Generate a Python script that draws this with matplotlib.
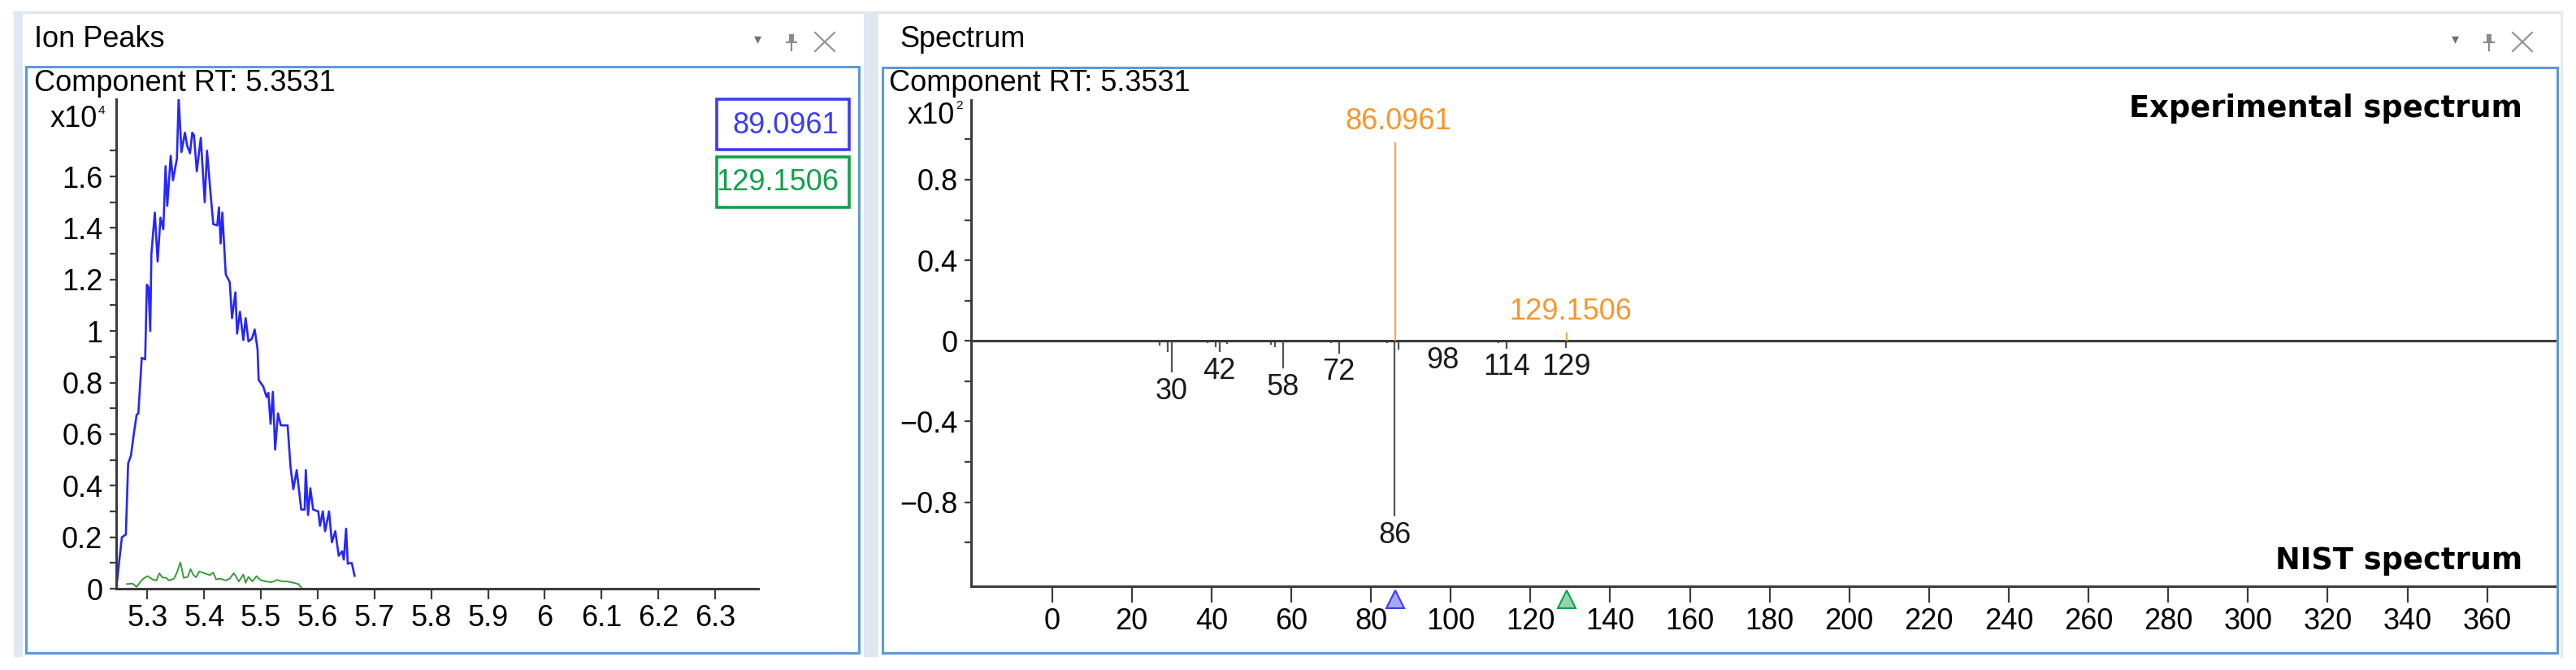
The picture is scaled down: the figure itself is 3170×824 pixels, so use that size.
import matplotlib
matplotlib.use('Agg')
import matplotlib.pyplot as plt
from matplotlib.patches import Rectangle
from matplotlib.lines import Line2D
from matplotlib.colors import to_rgba
from matplotlib.ticker import FuncFormatter
import numpy as np

# ---- data ----
# Ion Peaks: retention time (min) vs intensity (x10^4)
blue_rt = [5.245, 5.255, 5.262, 5.266, 5.271, 5.276, 5.281, 5.284, 5.290, 5.296,
           5.299, 5.302, 5.305, 5.307, 5.313, 5.318, 5.323, 5.328, 5.332, 5.335,
           5.341, 5.345, 5.352, 5.355, 5.360, 5.366, 5.370, 5.375, 5.379, 5.382,
           5.387, 5.394, 5.401, 5.405, 5.411, 5.416, 5.423, 5.426, 5.429, 5.432,
           5.438, 5.445, 5.449, 5.455, 5.458, 5.463, 5.469, 5.473, 5.478, 5.484,
           5.489, 5.494, 5.496, 5.504, 5.510, 5.513, 5.517, 5.521, 5.525, 5.530,
           5.535, 5.547, 5.552, 5.557, 5.563, 5.571, 5.577, 5.579, 5.583, 5.587,
           5.592, 5.601, 5.604, 5.609, 5.613, 5.620, 5.625, 5.631, 5.637, 5.643,
           5.646, 5.650, 5.653, 5.660, 5.665]
blue_int = [0.0, 0.20, 0.21, 0.486, 0.517, 0.60, 0.675, 0.68, 0.896, 0.89,
            1.18, 1.17, 1.00, 1.30, 1.46, 1.27, 1.44, 1.395, 1.64, 1.486,
            1.68, 1.585, 1.67, 1.905, 1.695, 1.77, 1.72, 1.69, 1.77, 1.76,
            1.62, 1.75, 1.50, 1.70, 1.54, 1.415, 1.41, 1.48, 1.34, 1.46,
            1.22, 1.19, 1.05, 1.15, 0.99, 1.075, 0.965, 1.05, 0.96, 0.97,
            1.006, 0.93, 0.81, 0.785, 0.744, 0.76, 0.64, 0.764, 0.54, 0.68,
            0.634, 0.634, 0.475, 0.386, 0.46, 0.307, 0.307, 0.46, 0.286, 0.39,
            0.307, 0.30, 0.244, 0.30, 0.223, 0.30, 0.18, 0.223, 0.128, 0.145,
            0.113, 0.233, 0.097, 0.10, 0.05]

green_rt = [5.264, 5.274, 5.281, 5.288, 5.293, 5.300, 5.305, 5.309, 5.316, 5.321,
            5.326, 5.333, 5.338, 5.347, 5.352, 5.358, 5.364, 5.371, 5.376, 5.381,
            5.386, 5.391, 5.397, 5.404, 5.410, 5.416, 5.421, 5.428, 5.438, 5.445,
            5.452, 5.457, 5.461, 5.469, 5.473, 5.478, 5.485, 5.492, 5.499, 5.509,
            5.519, 5.528, 5.538, 5.547, 5.557, 5.566, 5.572]
green_int = [0.018, 0.020, 0.007, 0.028, 0.039, 0.049, 0.042, 0.036, 0.032, 0.060,
             0.044, 0.042, 0.032, 0.039, 0.063, 0.102, 0.042, 0.046, 0.076, 0.053,
             0.044, 0.067, 0.063, 0.057, 0.053, 0.063, 0.036, 0.039, 0.032, 0.039,
             0.060, 0.044, 0.028, 0.055, 0.023, 0.046, 0.028, 0.049, 0.034, 0.028,
             0.025, 0.034, 0.028, 0.028, 0.023, 0.018, 0.002]

ion_labels = ['89.0961', '129.1506']
ion_colors = ['#3b3bf5', '#12a04a']
rt_ticks = [5.3, 5.4, 5.5, 5.6, 5.7, 5.8, 5.9, 6.0, 6.1, 6.2, 6.3]

# Spectrum (x10^2)
exp_mz = [86.0961, 129.1506]
exp_int = [0.984, 0.04]
nist_mz = [27, 29, 30, 39, 41, 42, 44, 55, 56, 58, 70, 72, 84, 86, 87, 98, 112, 114, 128, 129]
nist_int = [0.023, 0.056, 0.157, 0.01, 0.03, 0.056, 0.016, 0.019, 0.03, 0.137,
            0.013, 0.063, 0.01, 0.87, 0.045, 0.005, 0.01, 0.038, 0.008, 0.035]
nist_labels = [30, 42, 58, 72, 86, 98, 114, 129]
mz_ticks = list(range(0, 361, 20))

W, H, DPI = 3170, 824, 100
plt.rcParams['font.family'] = ['Liberation Sans', 'DejaVu Sans']
fig = plt.figure(figsize=(W / DPI, H / DPI), dpi=DPI)
fig.patch.set_facecolor('white')


def px_box(x0, y0, x1, y1, **kw):
    r = Rectangle((x0 / W, 1 - y1 / H), (x1 - x0) / W, (y1 - y0) / H,
                  transform=fig.transFigure, **kw)
    fig.add_artist(r)


def px_line(xs, ys, **kw):
    fig.add_artist(Line2D([x / W for x in xs], [1 - y / H for y in ys],
                          transform=fig.transFigure, **kw))


def px_text(x, y, s, **kw):
    fig.text(x / W, 1 - y / H, s, **kw)


# window chrome
px_line([17, 3152], [15, 15], color='#e2e8ee', lw=2.5)
px_box(17, 15, 28, 808, fc='#dfe8f1', ec='none')
px_box(1063, 15, 1081, 808, fc='#dfe8f1', ec='none')
px_line([3152, 3152], [15, 808], color='#e2e8ee', lw=2)
px_box(31.7, 82, 1056.7, 803, fc='none', ec='#5b9bd8', lw=2.2, zorder=5)
px_box(1086, 83, 3146.7, 803, fc='none', ec='#5b9bd8', lw=2.2, zorder=5)

px_text(42, 49, 'Ion Peaks', fontsize=26, va='center')
px_text(1107, 49, 'Spectrum', fontsize=26, va='center')

for xa in (932, 3021):
    px_text(xa, 48, '\u25be', fontsize=13, color='#707070', ha='center', va='center',
            family='DejaVu Sans')
    xp = xa + 42
    px_box(xp - 3, 42, xp + 3, 52, fc='#8a8a8a', ec='none')
    px_line([xp - 6, xp + 6], [52, 52], color='#8a8a8a', lw=1.5)
    px_line([xp, xp], [52, 62], color='#8a8a8a', lw=1.5)
    xc = xa + 83
    px_line([xc - 12, xc + 12], [40, 63], color='#909090', lw=1.5)
    px_line([xc - 12, xc + 12], [63, 40], color='#909090', lw=1.5)

px_text(42, 103, 'Component RT: 5.3531', fontsize=26, va='center')
px_text(1094, 103, 'Component RT: 5.3531', fontsize=26, va='center')

# ---- Ion Peaks axes ----
ax1 = fig.add_axes([143 / W, 1 - 724 / H, (933 - 143) / W, (724 - 122) / H])
ax1.set_facecolor('none')
ax1.plot(blue_rt, blue_int, color='#2626ff', lw=1.9)
ax1.plot(green_rt, green_int, color='#3a9a3a', lw=1.4)
ax1.set_xlim(5.245, 6.376)
ax1.set_ylim(0, 1.9)
ax1.set_xticks(rt_ticks)
ax1.set_yticks(np.arange(0, 1.61, 0.2))
ax1.set_yticks(np.arange(0.1, 1.81, 0.2), minor=True)
fmt = FuncFormatter(lambda v, p: ('%g' % round(v, 2)).replace('-', '\u2212'))
ax1.xaxis.set_major_formatter(fmt)
ax1.yaxis.set_major_formatter(fmt)
for s in ('top', 'right'):
    ax1.spines[s].set_visible(False)
for s in ('left', 'bottom'):
    ax1.spines[s].set_color('#3c3c3c')
    ax1.spines[s].set_linewidth(2.2)
ax1.tick_params(axis='y', which='both', length=6, width=1.6, color='#3c3c3c',
                labelsize=26, pad=6)
ax1.tick_params(axis='x', length=9.5, width=1.6, color='#3c3c3c', labelsize=26, pad=4)

px_text(120, 147, 'x10', fontsize=26, ha='right', va='center')
px_text(121, 136, '4', fontsize=11, ha='left', va='center')

# legend boxes
for i, (lab, col) in enumerate(zip(ion_labels, ion_colors)):
    y0 = 122 + i * 71
    px_box(882, y0, 1045, y0 + 62, fc='white', ec=col, lw=2.6, zorder=6)
    px_text(1032, y0 + 32, lab, fontsize=26, color=col, ha='right', va='center', zorder=7)

# ---- Spectrum axes ----
ax2 = fig.add_axes([1195 / W, 1 - 721 / H, (3147 - 1195) / W, (721 - 123) / H])
ax2.set_facecolor('none')
ax2.vlines(nist_mz, 0, -np.array(nist_int), color='#555555', lw=1.6)
ax2.vlines(exp_mz, 0, exp_int, color='#f9a64a', lw=1.6, zorder=3)
ax2.axhline(0, color='#3c3c3c', lw=2.2)
ax2.set_xlim(-20.3, 377.6)
ax2.set_ylim(-1.217, 1.195)
ax2.set_xticks(mz_ticks)
ax2.set_yticks([-0.8, -0.4, 0, 0.4, 0.8])
ax2.set_yticks([-1.0, -0.6, -0.2, 0.2, 0.6, 1.0], minor=True)
ax2.xaxis.set_major_formatter(fmt)
ax2.yaxis.set_major_formatter(fmt)
for s in ('top', 'right'):
    ax2.spines[s].set_visible(False)
for s in ('left', 'bottom'):
    ax2.spines[s].set_color('#3c3c3c')
    ax2.spines[s].set_linewidth(2.2)
ax2.tick_params(axis='y', which='both', length=6, width=1.6, color='#3c3c3c',
                labelsize=26, pad=6)
ax2.tick_params(axis='x', length=14.5, width=1.6, color='#3c3c3c', labelsize=26, pad=4)

for mz, inten in zip(exp_mz, exp_int):
    ax2.annotate('%.4f' % mz, (mz, inten), xytext=(3, 6), textcoords='offset points',
                 ha='center', va='bottom', fontsize=26, color='#f7962a')
for mz in nist_labels:
    inten = nist_int[nist_mz.index(mz)]
    ax2.annotate(str(mz), (mz, -inten), xytext=(0, -4), textcoords='offset points',
                 ha='center', va='top', fontsize=26, color='#1a1a1a')

for mz, col in zip(exp_mz, ion_colors):
    ax2.plot([mz], [-0.027], transform=ax2.get_xaxis_transform(), marker='^',
             ms=16, mfc=to_rgba(col, 0.45), mec=col, mew=1.5, clip_on=False, zorder=4)

px_text(1175, 142, 'x10', fontsize=26, ha='right', va='center')
px_text(1176, 130, '2', fontsize=11, ha='left', va='center')

px_text(3104, 134, 'Experimental spectrum', fontsize=26.5, fontweight='bold',
        ha='right', va='center', family='DejaVu Sans')
px_text(3104, 689, 'NIST spectrum', fontsize=26.5, fontweight='bold',
        ha='right', va='center', family='DejaVu Sans')

fig.savefig('out.png', dpi=DPI, facecolor='white')
